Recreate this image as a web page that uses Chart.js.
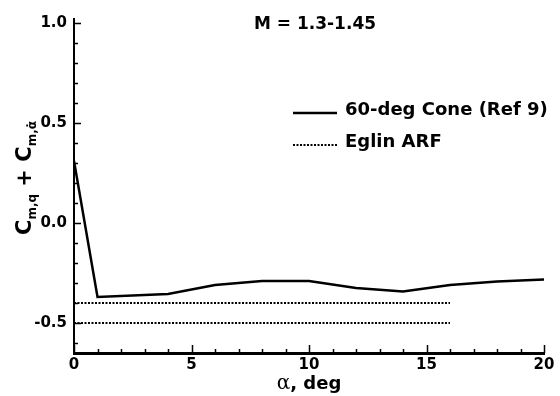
<!DOCTYPE html>
<html>
<head>
<meta charset="utf-8">
<script src="https://cdn.jsdelivr.net/npm/chart.js@4.4.1/dist/chart.umd.min.js"></script>
<style>
  html, body { margin: 0; padding: 0; background: #fff; }
  #wrap { width: 560px; height: 396px; }
</style>
</head>
<body>
<div id="wrap"><canvas id="chart" width="560" height="396"></canvas></div>
<script>
// angle of attack, deg
const alpha = [0, 1, 4, 6, 8, 10, 12, 14, 16, 18, 20];
// pitch damping sum, 60-deg cone
const coneDamping = [0.31, -0.37, -0.355, -0.31, -0.29, -0.29, -0.325, -0.343, -0.31, -0.292, -0.283];
// Eglin ARF range (upper / lower bound)
const eglinAlpha = [0, 16];
const eglinUpper = [-0.40, -0.40];
const eglinLower = [-0.50, -0.50];

const xMajorTicks = [0, 5, 10, 15, 20];
const xMinorTicks = [1, 2, 3, 4, 6, 7, 8, 9, 11, 12, 13, 14, 16, 17, 18, 19];
const yMajorTicks = [-0.5, 0.0, 0.5, 1.0];
const yMinorTicks = [-0.6, -0.4, -0.3, -0.2, -0.1, 0.1, 0.2, 0.3, 0.4, 0.6, 0.7, 0.8, 0.9];

const seriesNames = ['60-deg Cone (Ref 9)', 'Eglin ARF'];
const chartTitle = 'M = 1.3-1.45';

const toPoints = (xs, ys) => xs.map((v, i) => ({ x: v, y: ys[i] }));

const dotted = [2, 1.5];

// tick marks, title, legend and axis titles drawn on top
const decorations = {
  id: 'decorations',
  afterDraw(chart) {
    const { ctx, chartArea: a, scales: { x, y } } = chart;
    ctx.save();
    ctx.strokeStyle = '#000';
    ctx.fillStyle = '#000';

    // inward ticks
    ctx.lineWidth = 1.5;
    ctx.beginPath();
    xMajorTicks.forEach(v => {
      const px = Math.round(x.getPixelForValue(v)) + 0.5;
      ctx.moveTo(px, a.bottom); ctx.lineTo(px, a.bottom - 8);
    });
    xMinorTicks.forEach(v => {
      const px = Math.round(x.getPixelForValue(v)) + 0.5;
      ctx.moveTo(px, a.bottom); ctx.lineTo(px, a.bottom - 4);
    });
    yMajorTicks.forEach(v => {
      const py = Math.round(y.getPixelForValue(v)) + 0.5;
      ctx.moveTo(a.left, py); ctx.lineTo(a.left + 7, py);
    });
    yMinorTicks.forEach(v => {
      const py = Math.round(y.getPixelForValue(v)) + 0.5;
      ctx.moveTo(a.left, py); ctx.lineTo(a.left + 4, py);
    });
    ctx.stroke();

    // title
    ctx.font = 'bold 17px "DejaVu Sans"';
    ctx.textAlign = 'center';
    ctx.textBaseline = 'alphabetic';
    ctx.fillText(chartTitle, 315, 29);

    // legend
    ctx.textAlign = 'left';
    ctx.font = 'bold 18px "DejaVu Sans"';
    const rows = [
      { ds: chart.data.datasets[0], text: seriesNames[0], y: 115 },
      { ds: chart.data.datasets[1], text: seriesNames[1], y: 147 }
    ];
    rows.forEach(r => {
      ctx.beginPath();
      ctx.lineWidth = r.ds.borderWidth;
      ctx.setLineDash(r.ds.borderDash || []);
      ctx.moveTo(293, r.y - 2); ctx.lineTo(337, r.y - 2);
      ctx.stroke();
      ctx.setLineDash([]);
      ctx.fillText(r.text, 345, r.y);
    });

    // x axis title
    const big = 'bold 18px "DejaVu Sans"';
    const greek = '20px "DejaVu Serif"';
    ctx.font = greek;
    const wa = ctx.measureText('α').width;
    ctx.font = big;
    const wd = ctx.measureText(', deg').width;
    let sx = (a.left + a.right) / 2 - (wa + wd) / 2;
    ctx.font = greek;
    ctx.fillText('α', sx, 389);
    ctx.font = big;
    ctx.fillText(', deg', sx + wa, 389);

    // y axis title
    const yBig = 'bold 21px "DejaVu Sans"';
    const ySub = 'bold 12px "DejaVu Sans"';
    const parts = [
      ['C', yBig, 0], ['m,q', ySub, 5], [' + ', yBig, 0], ['C', yBig, 0], ['m,α̇', ySub, 5]
    ];
    let total = 0;
    parts.forEach(p => { ctx.font = p[1]; p.push(ctx.measureText(p[0]).width); total += p[3]; });
    ctx.translate(31, 178);
    ctx.rotate(-Math.PI / 2);
    let cx = -total / 2;
    parts.forEach(p => {
      ctx.font = p[1];
      ctx.fillText(p[0], cx, p[2]);
      cx += p[3];
    });
    ctx.restore();
  }
};

const tickFont = { family: 'DejaVu Sans', size: 15, weight: 'bold' };

new Chart(document.getElementById('chart'), {
  type: 'line',
  data: {
    datasets: [
      {
        label: seriesNames[0],
        data: toPoints(alpha, coneDamping),
        borderColor: '#000',
        borderWidth: 2.5,
        pointRadius: 0,
        tension: 0
      },
      {
        label: seriesNames[1],
        data: toPoints(eglinAlpha, eglinUpper),
        borderColor: '#000',
        borderWidth: 2,
        borderDash: dotted,
        pointRadius: 0
      },
      {
        label: seriesNames[1],
        data: toPoints(eglinAlpha, eglinLower),
        borderColor: '#000',
        borderWidth: 2,
        borderDash: dotted,
        pointRadius: 0
      }
    ]
  },
  options: {
    responsive: false,
    animation: false,
    devicePixelRatio: 1,
    layout: { padding: { top: 19, right: 16, left: 0, bottom: 0 } },
    plugins: {
      legend: { display: false },
      tooltip: { enabled: false },
      title: { display: false }
    },
    scales: {
      x: {
        type: 'linear',
        min: 0,
        max: 20,
        afterBuildTicks: s => { s.ticks = xMajorTicks.map(v => ({ value: v })); },
        afterFit: s => { s.height = 43; },
        grid: { display: false, drawTicks: false },
        border: { display: true, color: '#000', width: 3 },
        ticks: {
          color: '#000',
          font: tickFont,
          padding: 3,
          maxRotation: 0,
          callback: v => String(v)
        }
      },
      y: {
        type: 'linear',
        min: -0.65,
        max: 1.02,
        afterBuildTicks: s => { s.ticks = yMajorTicks.map(v => ({ value: v })); },
        afterFit: s => { s.width = 74; },
        grid: { display: false, drawTicks: false },
        border: { display: true, color: '#000', width: 2 },
        ticks: {
          color: '#000',
          font: tickFont,
          padding: 7,
          callback: v => v.toFixed(1)
        }
      }
    }
  },
  plugins: [decorations]
});
</script>
</body>
</html>
